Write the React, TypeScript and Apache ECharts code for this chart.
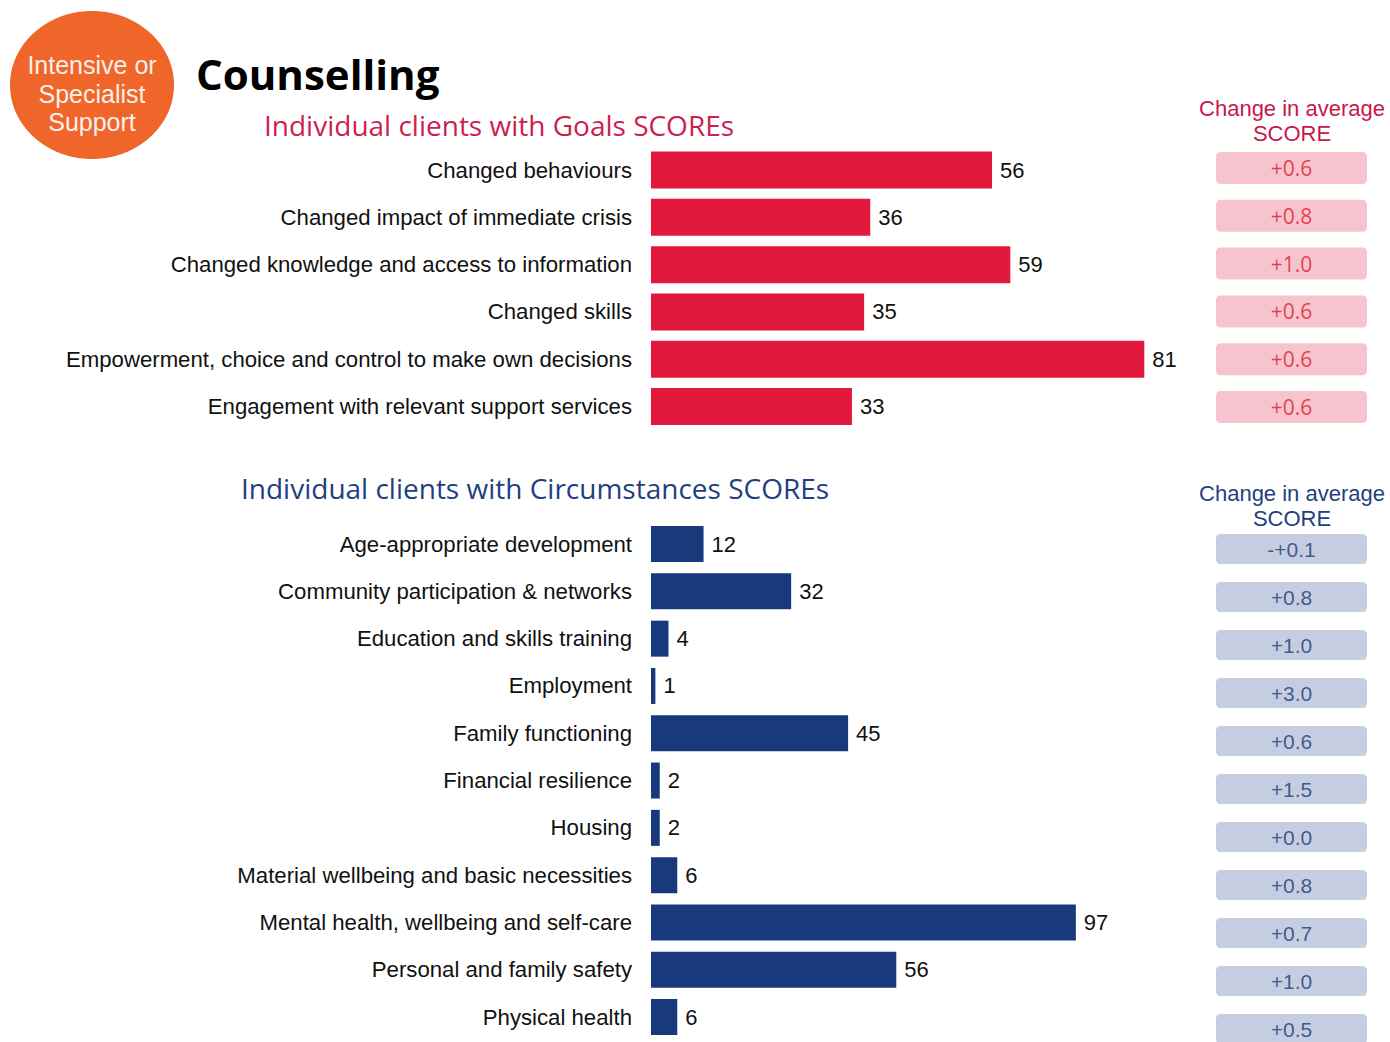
import React, { useEffect, useRef } from "react";
import * as echarts from "echarts";

const goalCategories = [
  "Changed behaviours",
  "Changed impact of immediate crisis",
  "Changed knowledge and access to information",
  "Changed skills",
  "Empowerment, choice and control to make own decisions",
  "Engagement with relevant support services",
];
const goalValues = [56, 36, 59, 35, 81, 33];
const goalChanges = ["+0.6", "+0.8", "+1.0", "+0.6", "+0.6", "+0.6"];

const circCategories = [
  "Age-appropriate development",
  "Community participation & networks",
  "Education and skills training",
  "Employment",
  "Family functioning",
  "Financial resilience",
  "Housing",
  "Material wellbeing and basic necessities",
  "Mental health, wellbeing and self-care",
  "Personal and family safety",
  "Physical health",
];
const circValues = [12, 32, 4, 1, 45, 2, 2, 6, 97, 56, 6];
const circChanges = ["-+0.1", "+0.8", "+1.0", "+3.0", "+0.6", "+1.5", "+0.0", "+0.8", "+0.7", "+1.0", "+0.5"];

const RED = "#E2193C";
const NAVY = "#183A7C";
const SANS = "'Liberation Sans', Arial, sans-serif";
const HEAD = "'Open Sans', 'Noto Sans', sans-serif";

function roundRectPath(w: number, h: number, r: number) {
  return (
    `path://M${r},0 H${w - r} Q${w},0 ${w},${r} V${h - r} Q${w},${h} ${w - r},${h} ` +
    `H${r} Q0,${h} 0,${h - r} V${r} Q0,0 ${r},0 Z`
  );
}

export default function App() {
  const ref = useRef<HTMLDivElement>(null);
  useEffect(() => {
    if (!ref.current) return;
    const chart = echarts.init(ref.current, undefined, { renderer: "svg" });
    const catAxis = (idx: number, data: string[]) => ({
      type: "category",
      gridIndex: idx,
      inverse: true,
      data,
      axisLine: { show: false },
      axisTick: { show: false },
      splitLine: { show: false },
      axisLabel: { fontSize: 22.2, color: "#111", fontFamily: SANS, margin: 19 },
    });
    const valAxis = (idx: number, min: number, max: number, inverse = false) => ({
      type: "value",
      gridIndex: idx,
      min,
      max,
      inverse,
      show: false,
      splitLine: { show: false },
    });
    const circChangeTop = 525;
    const circChangeHeight = 1042 - circChangeTop;
    const circChangeStep = 48;
    chart.setOption({
      animation: false,
      backgroundColor: "#fff",
      grid: [
        { left: 651, top: 146.4, width: 609, height: 283.8 },
        { left: 651, top: 520.4, width: 438, height: 520.3 },
        { left: 1216, top: 144.1, width: 151, height: 286.8 },
        { left: 1216, top: circChangeTop, width: 151, height: circChangeHeight },
      ],
      xAxis: [valAxis(0, 0, 100), valAxis(1, 0, 100), valAxis(2, -1, 1), valAxis(3, -1, 1)],
      yAxis: [
        catAxis(0, goalCategories),
        catAxis(1, circCategories),
        valAxis(2, -0.5, goalCategories.length - 0.5, true),
        valAxis(3, -0.5, -0.5 + circChangeHeight / circChangeStep, true),
      ],
      series: [
        {
          type: "bar",
          xAxisIndex: 0,
          yAxisIndex: 0,
          data: goalValues,
          barWidth: 37,
          itemStyle: { color: RED },
          label: { show: true, position: "right", distance: 8, fontSize: 22, color: "#111", fontFamily: SANS },
        },
        {
          type: "bar",
          xAxisIndex: 1,
          yAxisIndex: 1,
          data: circValues,
          barWidth: 36,
          itemStyle: { color: NAVY },
          label: { show: true, position: "right", distance: 8, fontSize: 22, color: "#111", fontFamily: SANS },
        },
        {
          type: "scatter",
          xAxisIndex: 2,
          yAxisIndex: 2,
          symbol: roundRectPath(151, 32, 5),
          symbolSize: [151, 32],
          symbolKeepAspect: false,
          itemStyle: { color: "#F4B5C2" },
          data: goalChanges.map((c, i) => ({ value: [0, i], name: c })),
          label: {
            show: true,
            position: "inside",
            formatter: (p: any) => p.name,
            fontSize: 21,
            color: "#E0192E",
            fontFamily: HEAD,
          },
        },
        {
          type: "scatter",
          xAxisIndex: 3,
          yAxisIndex: 3,
          symbol: roundRectPath(151, 30, 5),
          symbolSize: [151, 30],
          symbolKeepAspect: false,
          itemStyle: { color: "#B6C2D8" },
          data: circChanges.map((c, i) => ({ value: [0, i], name: c })),
          label: {
            show: true,
            position: "inside",
            formatter: (p: any) => p.name,
            fontSize: 21,
            color: "#1E3A78",
            fontFamily: SANS,
          },
        },
      ],
      graphic: [
        { type: "ellipse", shape: { cx: 92, cy: 85, rx: 82, ry: 74 }, style: { fill: "#F0652A" } },
        {
          type: "text",
          style: {
            x: 92, y: 65, text: "Intensive or", textAlign: "center", textVerticalAlign: "middle",
            fill: "#FBF1EC", font: `25px ${SANS}`,
          },
        },
        {
          type: "text",
          style: {
            x: 92, y: 94, text: "Specialist", textAlign: "center", textVerticalAlign: "middle",
            fill: "#FBF1EC", font: `25px ${SANS}`,
          },
        },
        {
          type: "text",
          style: {
            x: 92, y: 122, text: "Support", textAlign: "center", textVerticalAlign: "middle",
            fill: "#FBF1EC", font: `25px ${SANS}`,
          },
        },
        {
          type: "text",
          style: {
            x: 196, y: 73, text: "Counselling", textVerticalAlign: "middle",
            fill: "#000", font: `bold 42px ${HEAD}`,
          },
        },
        {
          type: "text",
          style: {
            x: 264, y: 125, text: "Individual clients with Goals SCOREs", textVerticalAlign: "middle",
            fill: "#CC1F4E", font: `28px ${HEAD}`,
          },
        },
        {
          type: "text",
          style: {
            x: 241, y: 488, text: "Individual clients with Circumstances SCOREs", textVerticalAlign: "middle",
            fill: "#1F3F80", font: `28px ${HEAD}`,
          },
        },
        {
          type: "text",
          style: {
            x: 1292, y: 108, text: "Change in average", textAlign: "center", textVerticalAlign: "middle",
            fill: "#C8174A", font: `22px ${SANS}`,
          },
        },
        {
          type: "text",
          style: {
            x: 1292, y: 133, text: "SCORE", textAlign: "center", textVerticalAlign: "middle",
            fill: "#C8174A", font: `22px ${SANS}`,
          },
        },
        {
          type: "text",
          style: {
            x: 1292, y: 493, text: "Change in average", textAlign: "center", textVerticalAlign: "middle",
            fill: "#1F3F80", font: `22px ${SANS}`,
          },
        },
        {
          type: "text",
          style: {
            x: 1292, y: 518, text: "SCORE", textAlign: "center", textVerticalAlign: "middle",
            fill: "#1F3F80", font: `22px ${SANS}`,
          },
        },
      ],
    });
    return () => chart.dispose();
  }, []);
  return (
    <div
      ref={ref}
      style={{ position: "fixed", left: 0, top: 0, width: 1390, height: 1042, background: "#fff" }}
    />
  );
}
